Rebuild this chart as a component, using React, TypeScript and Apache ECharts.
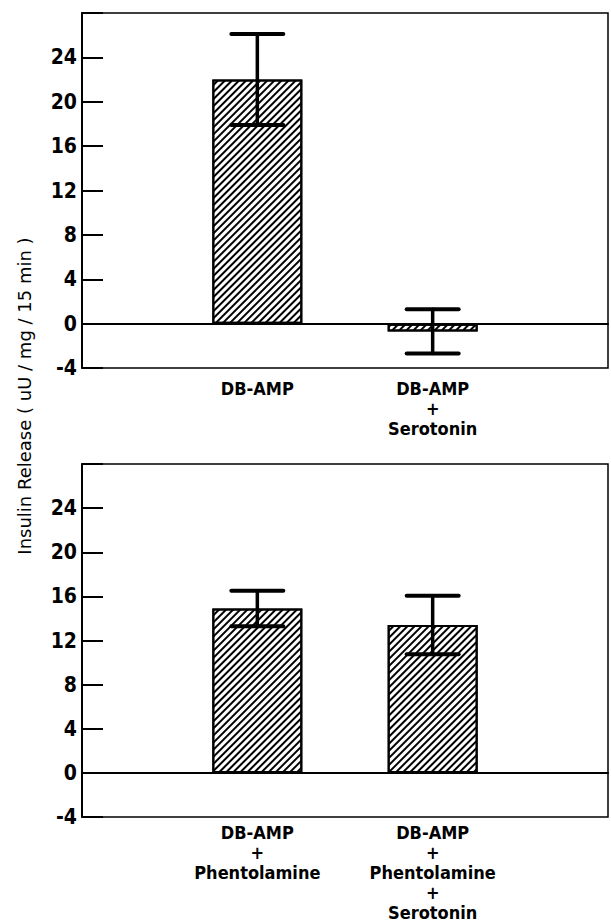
import React, { useEffect, useRef } from "react";
import * as echarts from "echarts";

const categoriesTop = ["", "DB-AMP", "DB-AMP\n+\nSerotonin", ""];
const categoriesBottom = ["", "DB-AMP\n+\nPhentolamine", "DB-AMP\n+\nPhentolamine\n+\nSerotonin", ""];
const meansTop = [22, -0.7];
const errTop = [4.1, 2.0];
const meansBottom = [14.9, 13.4];
const errBottom = [1.6, 2.65];
const yMin = -4;
const yMax = 28;
const yStep = 4;
const yTitle = "Insulin Release ( uU / mg / 15 min )";

const FONT = "'DejaVu Sans Condensed', 'DejaVu Sans', sans-serif";

const hatch = {
  symbol: "rect",
  symbolSize: 1,
  dashArrayX: [1, 0],
  dashArrayY: [1.8, 2.2],
  rotation: -Math.PI / 4,
  color: "#000",
};

function barData(means: number[]) {
  return ["-", ...means, "-"];
}
function errData(means: number[], errs: number[]) {
  return means.map((m, i) => [i + 1, m - errs[i], m + errs[i]]);
}

const renderErr = (params: any, api: any) => {
  const x = api.value(0);
  const lo = api.coord([x, api.value(1)]);
  const hi = api.coord([x, api.value(2)]);
  const hw = 26;
  const style = { stroke: "#000", lineWidth: 3.5, lineCap: "round" };
  return {
    type: "group",
    children: [
      { type: "line", shape: { x1: lo[0], y1: lo[1], x2: hi[0], y2: hi[1] }, style },
      { type: "line", shape: { x1: hi[0] - hw, y1: hi[1], x2: hi[0] + hw, y2: hi[1] }, style: { ...style, lineWidth: 4 } },
      { type: "line", shape: { x1: lo[0] - hw, y1: lo[1], x2: lo[0] + hw, y2: lo[1] }, style: { ...style, lineWidth: 4 } },
    ],
  };
};

export default function App() {
  const ref = useRef<HTMLDivElement>(null);
  useEffect(() => {
    if (!ref.current) return;
    const chart = echarts.init(ref.current, null, { renderer: "svg" });
    const yAxisBase = (gridIndex: number) => ({
      type: "value",
      gridIndex,
      min: yMin,
      max: yMax,
      interval: yStep,
      axisLine: { show: true, lineStyle: { color: "#000", width: 2 } },
      axisTick: { show: true, inside: true, length: 21, lineStyle: { color: "#000", width: 2 } },
      splitLine: { show: false },
      axisLabel: {
        margin: 5,
        color: "#000",
        fontFamily: FONT,
        fontSize: 21,
        fontWeight: 600,
        formatter: (v: number) => (v === yMax ? "" : String(v)),
      },
    });
    const xAxisBase = (gridIndex: number, data: string[], margin: number) => ({
      type: "category",
      gridIndex,
      data,
      boundaryGap: false,
      axisLine: { show: true, lineStyle: { color: "#000", width: 2 } },
      axisTick: { show: false },
      splitLine: { show: false },
      axisLabel: {
        interval: 0,
        margin,
        color: "#000",
        fontFamily: FONT,
        fontSize: 18,
        fontWeight: 600,
        lineHeight: 20,
        align: "center",
      },
    });
    const zeroLine = {
      silent: true,
      symbol: "none",
      label: { show: false },
      lineStyle: { color: "#000", width: 2, type: "solid" },
      data: [{ yAxis: 0 }],
    };
    const barSeries = (idx: number, means: number[]) => ({
      type: "bar",
      xAxisIndex: idx,
      yAxisIndex: idx,
      data: barData(means),
      barWidth: 90,
      itemStyle: { color: "#fff", borderColor: "#000", borderWidth: 2, decal: hatch },
      markLine: zeroLine,
      z: 2,
    });
    const errSeries = (idx: number, means: number[], errs: number[]) => ({
      type: "custom",
      xAxisIndex: idx,
      yAxisIndex: idx,
      data: errData(means, errs),
      renderItem: renderErr,
      z: 5,
    });
    chart.setOption({
      animation: false,
      aria: { enabled: false, decal: { show: false } },
      grid: [
        { left: 82, top: 13, width: 528, height: 355, show: true, borderColor: "#000", borderWidth: 1.5, backgroundColor: "transparent" },
        { left: 82, top: 464, width: 528, height: 356, show: true, borderColor: "#000", borderWidth: 1.5, backgroundColor: "transparent" },
      ],
      xAxis: [xAxisBase(0, categoriesTop, 10), xAxisBase(1, categoriesBottom, 5)],
      yAxis: [yAxisBase(0), yAxisBase(1)],
      series: [
        barSeries(0, meansTop),
        errSeries(0, meansTop, errTop),
        barSeries(1, meansBottom),
        errSeries(1, meansBottom, errBottom),
      ],
      graphic: [
        {
          type: "text",
          x: 24,
          y: 396,
          rotation: Math.PI / 2,
          style: {
            text: yTitle,
            fill: "#000",
            font: `500 18px 'DejaVu Sans', sans-serif`,
            align: "center",
            verticalAlign: "middle",
          },
        },
      ],
    });
    return () => chart.dispose();
  }, []);
  return (
    <div
      ref={ref}
      style={{ position: "absolute", left: 0, top: 0, width: 611, height: 922, background: "#fff" }}
    />
  );
}
